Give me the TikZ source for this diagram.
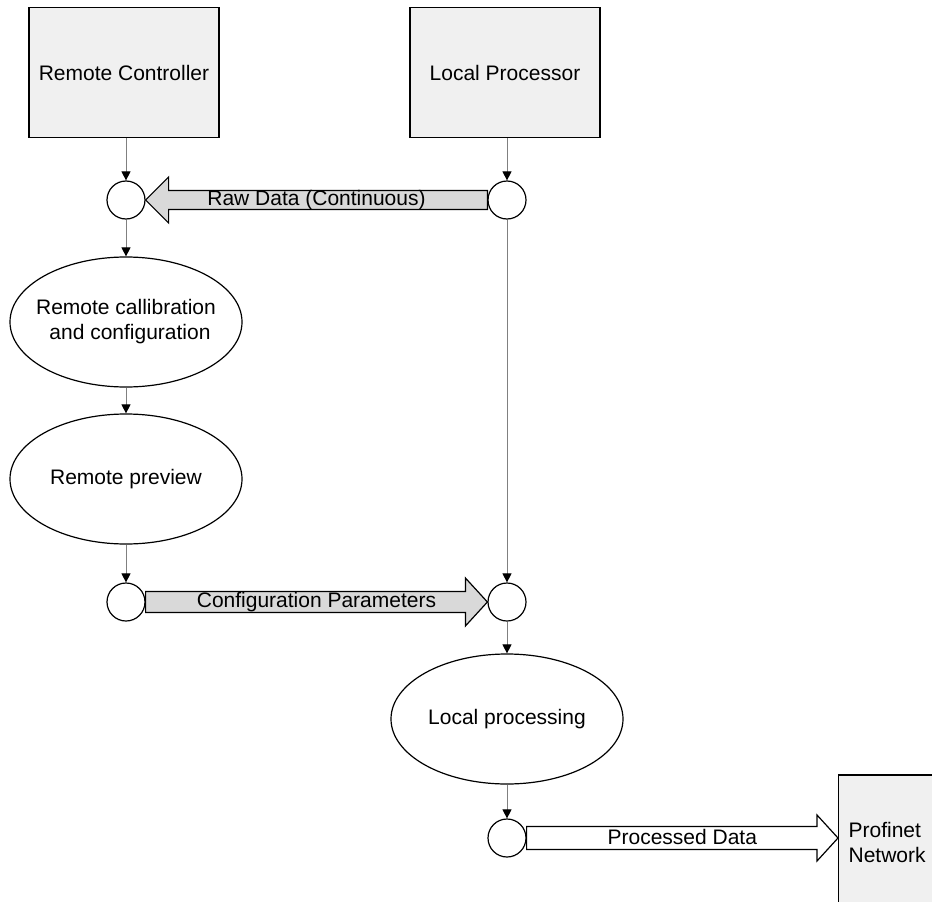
\documentclass[tikz,border=0pt]{standalone}
\usepackage{fontspec}
\setmainfont{Liberation Sans}
\usetikzlibrary{shapes.geometric,arrows.meta,calc}
\definecolor{boxfill}{HTML}{F0F0F0}
\definecolor{arrfill}{HTML}{D9D9D9}
\definecolor{linegray}{HTML}{808080}
\newcommand{\narrowline}[1]{\makebox[120pt]{#1}}
\begin{document}
\begin{tikzpicture}[x=1pt,y=1pt,
  every node/.style={font=\fontsize{21}{25}\selectfont},
  bigbox/.style={draw=black,line width=1.2pt,fill=boxfill,minimum width=190pt,minimum height=130pt,inner sep=0pt},
  junction/.style={circle,draw=black,line width=1.2pt,fill=white,minimum size=38pt,inner sep=0pt},
  proc/.style={ellipse,draw=black,line width=1.2pt,fill=white,minimum width=232pt,minimum height=130pt,inner sep=0pt,align=center},
  conn/.style={draw=linegray,line width=0.9pt,-{Triangle[length=9pt,width=9pt,color=black]}},
  fatarrow/.style={draw=black,line width=1.2pt,line join=miter},
  arrlabel/.style={inner sep=0pt,anchor=center}
]
\useasboundingbox (0,0) rectangle (932,-902);
\clip (0,0) rectangle (932,-902);

\node[bigbox] (rc) at (124,-72.5) {Remote Controller};
\node[bigbox] (lp) at (505,-72.5) {Local Processor};

\node[junction] (c1) at (126,-200) {};
\node[junction] (c2) at (507,-200) {};
\node[proc] (e1) at (126,-322) {\narrowline{Remote callibration}\\ \narrowline{\hspace{8pt}and configuration}};
\node[proc] (e2) at (126,-479) {Remote preview};
\node[junction] (c3) at (126,-602) {};
\node[junction] (c4) at (507,-602) {};
\node[proc] (e3) at (507,-719) {Local processing};
\node[junction] (c5) at (507,-838) {};

\node[draw=black,line width=1.2pt,fill=boxfill,anchor=west,minimum width=122pt,minimum height=134pt,
      text width=102pt,inner xsep=10pt,align=left] (pn) at (838,-842) {Profinet\\Network};

% connectors
\draw[conn] (rc.south -| c1) -- (c1.north);
\draw[conn] (lp.south -| c2) -- (c2.north);
\draw[conn] (c1.south) -- (e1.north);
\draw[conn] (e1.south) -- (e2.north);
\draw[conn] (e2.south) -- (c3.north);
\draw[conn] (c2.south) -- (c4.north);
\draw[conn] (c4.south) -- (e3.north);
\draw[conn] (e3.south) -- (c5.north);

% Raw Data arrow (right to left)
\draw[fatarrow,fill=arrfill]
  ($(c2.west)+(0,9.5)$) -- ($(c1.east)+(23,9.5)$) -- ($(c1.east)+(23,23)$) -- (c1.east)
  -- ($(c1.east)+(23,-23)$) -- ($(c1.east)+(23,-9.5)$) -- ($(c2.west)+(0,-9.5)$) -- cycle;
\node[arrlabel] (lraw) at ($(c1.east)!0.5!(c2.west)$) {Raw Data (Continuous)};

% Configuration Parameters arrow (left to right)
\draw[fatarrow,fill=arrfill]
  ($(c3.east)+(0,10.5)$) -- ($(c4.west)+(-22,10.5)$) -- ($(c4.west)+(-22,24)$) -- (c4.west)
  -- ($(c4.west)+(-22,-24)$) -- ($(c4.west)+(-22,-10.5)$) -- ($(c3.east)+(0,-10.5)$) -- cycle;
\node[arrlabel] (lcfg) at ($(c3.east)!0.5!(c4.west)$) {Configuration Parameters};

% Processed Data arrow
\coordinate (pnin) at (pn.west |- c5);
\draw[fatarrow,fill=white]
  ($(c5.east)+(0,11.5)$) -- ($(pnin)+(-21,11.5)$) -- ($(pnin)+(-21,23)$) -- (pnin)
  -- ($(pnin)+(-21,-23)$) -- ($(pnin)+(-21,-11.5)$) -- ($(c5.east)+(0,-11.5)$) -- cycle;
\node[arrlabel] (lproc) at ($(c5.east)!0.5!(pnin)+(0,1)$) {Processed Data};
\end{tikzpicture}
\end{document}
